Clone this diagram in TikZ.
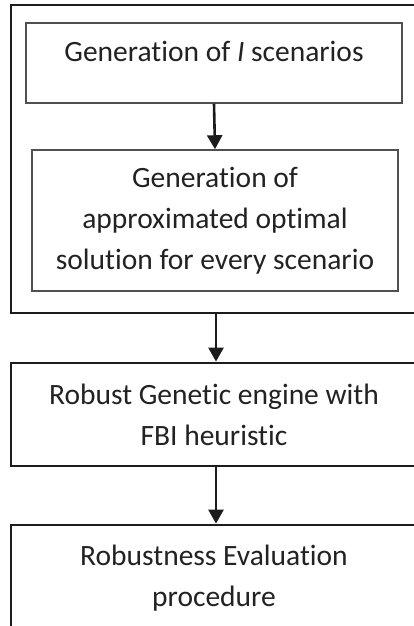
\documentclass[tikz,border=0pt]{standalone}
\usepackage{fontspec}
\setmainfont{Carlito}[RawFeature=-liga]
\usetikzlibrary{arrows.meta}
\definecolor{txt}{HTML}{222222}
\definecolor{thinline}{HTML}{505050}
\definecolor{thickline}{HTML}{1C1C1C}
\begin{document}
\begin{tikzpicture}[x=1pt,y=-1pt,
  every node/.style={font=\fontsize{29.5}{41}\selectfont, text=txt, inner sep=0pt, align=center},
  thinbox/.style={draw=thinline, line width=1.5pt, rectangle},
  thickbox/.style={draw=thickline, line width=2.8pt, rectangle},
  flowarrow/.style={draw=thickline, line width=2.6pt, -{Triangle[width=15pt,length=14pt]}}]
\useasboundingbox (0,0) rectangle (413,626);
\fill[white] (0,0) rectangle (413,626);
% outer container
\node[thickbox, minimum width=406pt, minimum height=308pt] (outer) at (214,159) {};
% box 1
\node[thinbox, minimum width=376pt, text height=38pt, text depth=42pt] (b1) at (214,63) {Generation of \textit{I} scenarios};
% box 2
\node[thinbox, minimum width=366pt, minimum height=141pt] (b2) at (215,220.5) {Generation of\\approximated optimal\\solution for every scenario};
% box 3
\node[thickbox, minimum width=406pt, minimum height=103pt] (b3) at (214,414.5) {Robust Genetic engine with\\FBI heuristic};
% box 4
\node[thickbox, minimum width=406pt, minimum height=106pt] (b4) at (214,578) {Robustness Evaluation\\procedure};
% arrows
\draw[flowarrow] (b1.south) -- (b2.north);
\draw[flowarrow] ([xshift=2pt]outer.south) -- ([xshift=2pt]b3.north);
\draw[flowarrow] ([xshift=2pt]b3.south) -- ([xshift=2pt]b4.north);
\end{tikzpicture}
\end{document}
